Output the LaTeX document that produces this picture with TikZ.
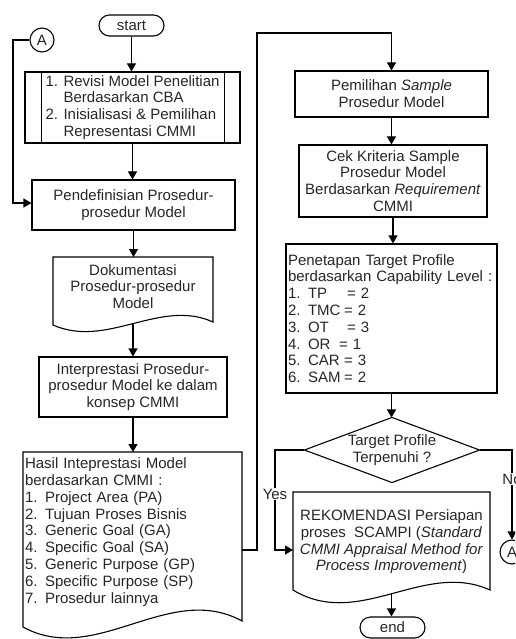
\documentclass[tikz,border=0pt]{standalone}
\usepackage{fontspec}
\setmainfont{Liberation Sans}
\usetikzlibrary{arrows.meta}
\newcommand\dgfont{\fontsize{15pt}{16.8pt}\selectfont}
\begin{document}
\begin{tikzpicture}[x=1pt,y=-1pt,line width=1.1pt,
  every node/.style={font=\dgfont, text=black!85},
  box/.style={draw=black, rectangle, inner sep=2pt, align=center},
  term/.style={draw=black, rectangle, rounded corners=10.5pt, minimum width=65pt, minimum height=21pt, inner sep=0pt},
  conn/.style={draw=black, circle, minimum size=24pt, inner sep=0pt},
  arr/.style={-{Triangle[length=8pt,width=9pt]}},
  lab/.style={fill=white, inner sep=1pt}]
\useasboundingbox (0,0) rectangle (515,639);
\clip (0,0) rectangle (515,639);

% left column
\node[term] (start) at (131.5,25.5) {start};
\node[conn] (a1) at (42,40) {A};
\node[box, minimum width=215pt, minimum height=71pt, align=left] (pre) at (132.5,107.5)
  {1. Revisi Model Penelitian\\\phantom{1. }Berdasarkan CBA\\2. Inisialisasi \& Pemilihan\\\phantom{2. }Representasi CMMI};
\draw ([xshift=17pt]pre.north west) -- ([xshift=17pt]pre.south west);
\draw ([xshift=-16pt]pre.north east) -- ([xshift=-16pt]pre.south east);

\node[box, minimum width=203pt, minimum height=50pt] (pendef) at (133.5,205) {Pendefinisian Prosedur-\\prosedur Model};

\node[align=center] (dok) at (133,286.5) {Dokumentasi\\Prosedur-prosedur\\Model};
\draw (53,257) -- (213,257) -- (213,322) .. controls (160,298) and (107,349) .. (53,325) -- cycle;
\coordinate (dokT) at (133,257);
\coordinate (dokB) at (133,323.5);

\node[box, minimum width=188pt, minimum height=60pt] (interp) at (133,387) {Interprestasi Prosedur-\\prosedur Model ke dalam\\konsep CMMI};

\node[align=left, text width=215pt, inner xsep=2pt, inner ysep=0pt, minimum height=160pt] (hasil) at (132.5,532)
  {Hasil Inteprestasi Model\\berdasarkan CMMI :\\1. Project Area (PA)\\2. Tujuan Proses Bisnis\\3. Generic Goal (GA)\\4. Specific Goal (SA)\\5. Generic Purpose (GP)\\6. Specific Purpose (SP)\\7. Prosedur lainnya};
\draw (23,452) -- (242,452) -- (242,621) .. controls (169,581) and (96,667) .. (23,627) -- cycle;
\coordinate (hasilT) at (132.5,452);
\coordinate (hasilR) at (242,550);

% right column
\node[box, minimum width=193pt, minimum height=46pt] (pemil) at (391.5,94) {Pemilihan \textit{Sample}\\Prosedur Model};
\node[box, minimum width=188pt, minimum height=72pt] (cek) at (393,181) {Cek Kriteria Sample\\Prosedur Model\\Berdasarkan \textit{Requirement}\\CMMI};
\node[box, align=left, text width=207pt, inner xsep=2pt, minimum height=149pt] (penet) at (391.5,318.5)
  {Penetapan Target Profile\\berdasarkan Capability Level :\\\makebox[59pt][l]{1. TP}= 2\\\makebox[56pt][l]{2. TMC}= 2\\\makebox[59pt][l]{3. OT}= 3\\\makebox[51pt][l]{4. OR}= 1\\\makebox[56pt][l]{5. CAR}= 3\\\makebox[56pt][l]{6. SAM}= 2};

\node[minimum width=174pt, minimum height=64pt, inner sep=0pt, align=center] (dec) at (392,450) {Target Profile\\Terpenuhi ?};
\draw (dec.west) -- (dec.north) -- (dec.east) -- (dec.south) -- cycle;

\node[align=center] (rek) at (391.5,541.8) {REKOMENDASI Persiapan\\proses\ \ SCAMPI (\textit{Standard}\\\textit{CMMI Appraisal Method for}\\\textit{Process Improvement})};
\draw (293,492) -- (490,492) -- (490,590) .. controls (424,560) and (359,630) .. (293,590) -- cycle;
\coordinate (rekL) at (293,550);
\coordinate (rekB) at (391.5,594);

\node[term] (end) at (392.5,627.5) {end};
\node[conn] (a2) at (512,552) {A};

% connectors
\draw[arr] (start.south) -- (start.south |- pre.north);
\draw[arr] (pre.south) -- (pre.south |- pendef.north);
\draw[arr] (pendef.south) -- (pendef.south |- dokT);
\draw[arr] (dokB) -- (dokB |- interp.north);
\draw[arr] (interp.south) -- (interp.south |- hasilT);
\coordinate (bendA) at (257,33);
\draw[arr] (hasilR) -| (bendA) -| (pemil.north);
\draw[arr] (pemil.south) -- (pemil.south |- cek.north);
\draw[arr] (cek.south) -- (cek.south |- penet.north);
\draw[arr] (penet.south) -- (penet.south |- dec.north);
\coordinate (yesB) at (275,550);
\draw[arr] (dec.west) -| (yesB) -- (rekL);
\node[lab] (yes) at (275,494) {Yes};
\draw[arr] (dec.east) -| (a2.north);
\node[lab] (no) at (512,479) {No};
\draw[arr] (rekB) -- (rekB |- end.north);
\coordinate (lb) at (13,203);
\draw[arr] (a1.west) -| (lb) -- (lb -| pendef.west);
\end{tikzpicture}
\end{document}
